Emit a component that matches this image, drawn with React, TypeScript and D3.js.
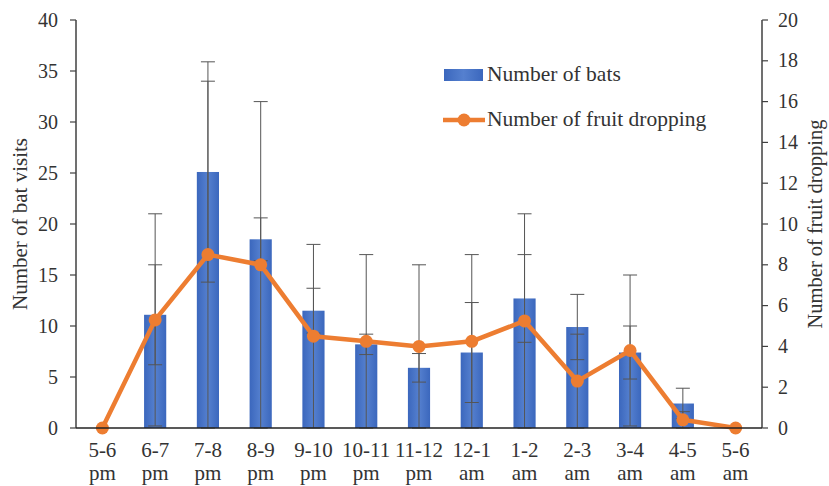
import React from 'react';
import * as d3 from 'd3';

const hours = ['5-6', '6-7', '7-8', '8-9', '9-10', '10-11', '11-12', '12-1', '1-2', '2-3', '3-4', '4-5', '5-6'];
const periods = ['pm', 'pm', 'pm', 'pm', 'pm', 'pm', 'pm', 'am', 'am', 'am', 'am', 'am', 'am'];

// left axis: number of bat visits (mean and SD)
const bats = [0, 11.1, 25.1, 18.5, 11.5, 8.2, 5.9, 7.4, 12.7, 9.9, 7.4, 2.4, 0];
const batsSd = [0, 4.9, 10.8, 2.1, 2.2, 1.0, 1.4, 4.9, 4.3, 3.2, 2.6, 1.5, 0];

// right axis: number of fruit dropping (mean and SD)
const fruit = [0, 5.3, 8.5, 8.0, 4.5, 4.25, 4.0, 4.25, 5.25, 2.3, 3.8, 0.4, 0];
const fruitSd = [0, 5.2, 8.5, 8.0, 4.5, 4.25, 4.0, 4.25, 5.25, 2.3, 3.7, 0.4, 0];

const leftTicks = [0, 5, 10, 15, 20, 25, 30, 35, 40];
const rightTicks = [0, 2, 4, 6, 8, 10, 12, 14, 16, 18, 20];

const W = 829;
const H = 486;
const m = { left: 76, right: 67, top: 20, bottom: 58 };
const font = 'Liberation Serif';
const axisColor = '#404040';
const textColor = '#333';
const lineColor = '#ed7d31';
const errColor = '#555';

export default function App() {
  const idx = hours.map((_, i) => i);
  const x = d3.scaleBand<number>().domain(idx).range([m.left, W - m.right]).paddingInner(0.58).paddingOuter(0.29);
  const cx = (i: number) => x(i)! + x.bandwidth() / 2;
  const yL = d3.scaleLinear().domain([0, 40]).range([H - m.bottom, m.top]);
  const yR = d3.scaleLinear().domain([0, 20]).range([H - m.bottom, m.top]);
  const line = d3.line<number>().x((_, i) => cx(i)).y(d => yR(d));
  const cap = 7;

  const errBar = (key: string, xc: number, lo: number, hi: number) => (
    <g key={key} stroke={errColor} strokeWidth={1}>
      <line x1={xc} x2={xc} y1={lo} y2={hi} />
      <line x1={xc - cap} x2={xc + cap} y1={hi} y2={hi} />
      <line x1={xc - cap} x2={xc + cap} y1={lo} y2={lo} />
    </g>
  );

  const x0 = m.left;
  const x1 = W - m.right;
  const yTop = m.top;
  const yBot = H - m.bottom;
  const ts = { fontFamily: font };

  return (
    <div style={{ position: 'absolute', left: 0, top: 0 }}>
      <svg width={W} height={H} style={{ display: 'block', background: '#fff', fontFamily: font }}>
        <defs>
          <linearGradient id="barGrad" x1="0" y1="0" x2="1" y2="0">
            <stop offset="0%" stopColor="#3b67bd" />
            <stop offset="50%" stopColor="#5580cf" />
            <stop offset="100%" stopColor="#3b67bd" />
          </linearGradient>
        </defs>

        {/* bars */}
        {bats.map((v, i) => (
          <rect key={'b' + i} x={x(i)} y={yL(v)} width={x.bandwidth()} height={yL(0) - yL(v)} fill="url(#barGrad)" />
        ))}

        {/* bat error bars */}
        {bats.map((v, i) => batsSd[i] > 0 &&
          errBar('eb' + i, cx(i), yL(Math.max(0, v - batsSd[i])), yL(v + batsSd[i])))}

        {/* fruit error bars */}
        {fruit.map((v, i) => fruitSd[i] > 0 &&
          errBar('ef' + i, cx(i), yR(Math.max(0, v - fruitSd[i])), yR(v + fruitSd[i])))}

        {/* axes */}
        <line x1={x0} x2={x0} y1={yTop} y2={yBot} stroke={axisColor} strokeWidth={1.5} />
        <line x1={x1} x2={x1} y1={yTop} y2={yBot} stroke={axisColor} strokeWidth={1.5} />
        {leftTicks.map(t => (
          <g key={'lt' + t}>
            <line x1={x0 - 6} x2={x0} y1={yL(t)} y2={yL(t)} stroke={axisColor} strokeWidth={1.2} />
            <text x={x0 - 18} y={yL(t)} dy="0.33em" textAnchor="end" fontSize={20} fill={textColor} style={ts}>{t}</text>
          </g>
        ))}
        {rightTicks.map(t => (
          <g key={'rt' + t}>
            <line x1={x1} x2={x1 + 6} y1={yR(t)} y2={yR(t)} stroke={axisColor} strokeWidth={1.2} />
            <text x={x1 + 16} y={yR(t)} dy="0.33em" textAnchor="start" fontSize={20} fill={textColor} style={ts}>{t}</text>
          </g>
        ))}

        {/* line series */}
        <path d={line(fruit)!} fill="none" stroke={lineColor} strokeWidth={4.5} strokeLinejoin="round" />
        {fruit.map((v, i) => (
          <circle key={'c' + i} cx={cx(i)} cy={yR(v)} r={6.5} fill={lineColor} />
        ))}

        <line x1={x0} x2={x1} y1={yBot} y2={yBot} stroke="#222" strokeWidth={1.5} />

        {/* x labels */}
        {hours.map((h, i) => (
          <text key={'xl' + i} x={cx(i)} y={457} textAnchor="middle" fontSize={21} fill={textColor} style={ts}>
            <tspan x={cx(i)}>{h}</tspan>
            <tspan x={cx(i)} y={480}>{periods[i]}</tspan>
          </text>
        ))}

        {/* axis titles */}
        <text transform={`translate(27,${(yTop + yBot) / 2}) rotate(-90)`} textAnchor="middle" fontSize={21} fill={textColor} style={ts}>
          Number of bat visits
        </text>
        <text transform={`translate(822,${(yTop + yBot) / 2}) rotate(-90)`} textAnchor="middle" fontSize={20.5} fill={textColor} style={ts}>
          Number of fruit dropping
        </text>

        {/* legend */}
        <rect x={444} y={69} width={39} height={12} fill="url(#barGrad)" />
        <text x={487} y={81} fontSize={21.5} fill={textColor} style={ts}>Number of bats</text>
        <line x1={443} x2={485} y1={120} y2={120} stroke={lineColor} strokeWidth={4.5} />
        <circle cx={464} cy={120} r={6.5} fill={lineColor} />
        <text x={487} y={126} fontSize={21.5} fill={textColor} style={ts}>Number of fruit dropping</text>
      </svg>
    </div>
  );
}
